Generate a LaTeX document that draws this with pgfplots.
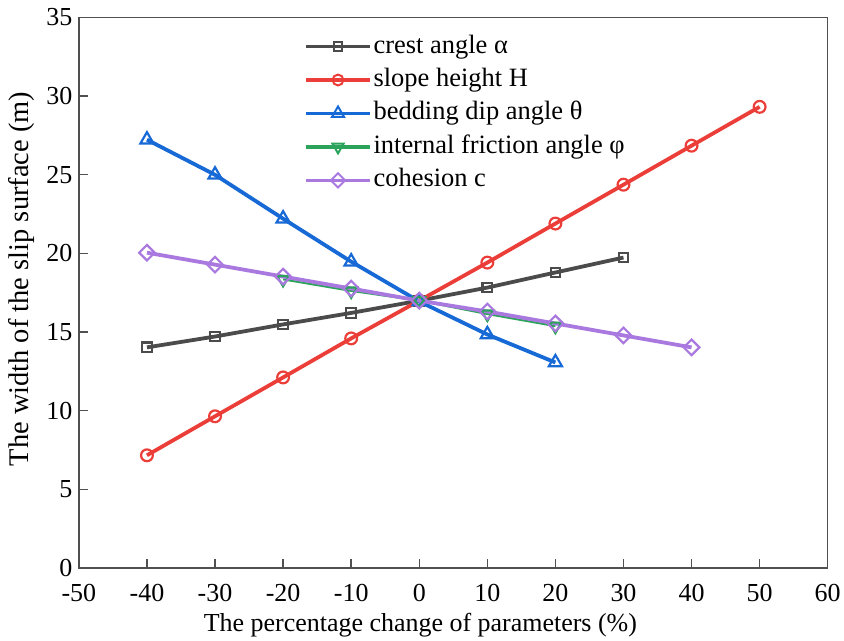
\documentclass[border=0pt]{standalone}
\usepackage{pgfplots}
\pgfplotsset{compat=1.18}
\usepackage{fontspec}
\setmainfont{Liberation Serif}
\definecolor{cblack}{HTML}{4B4B4B}
\definecolor{cred}{HTML}{EC3E38}
\definecolor{cblue}{HTML}{1769D6}
\definecolor{cgreen}{HTML}{2BA35A}
\definecolor{cpurple}{HTML}{A979DF}
\definecolor{caxis}{HTML}{505050}
\begin{document}
\begin{tikzpicture}[x=1bp,y=1bp]
\begin{axis}[
  name=ax,
  scale only axis,
  width=750bp, height=551.5bp,
  xmin=-50, xmax=60, ymin=0, ymax=35,
  xtick={-50,-40,...,60}, ytick={0,5,...,35},
  tick align=inside, tick pos=left,
  major tick length=9bp,
  axis line style={line width=1.5bp, caxis},
  every tick/.style={line width=1.4bp, caxis},
  ticklabel style={font=\fontsize{26bp}{30bp}\selectfont},
  xticklabel style={yshift=-13bp},
  yticklabel style={xshift=-3bp},
  /pgf/number format/assume math mode=true,
  xlabel={The percentage change of parameters (\%)},
  ylabel={The width of the slip surface (m)},
  xlabel style={font=\fontsize{26bp}{30bp}\selectfont, at={(axis description cs:0.456,-0.116)}, anchor=base},
  ylabel style={font=\fontsize{28.5bp}{32bp}\selectfont, at={(axis description cs:-0.0667,0.525)}, anchor=base},
  legend style={at={(axis description cs:0.301,0.972)}, anchor=north west, draw=none, fill=none,
    font=\fontsize{26.5bp}{30bp}\selectfont, row sep=6.5bp, inner sep=0bp,
    nodes={inner xsep=2bp, inner ysep=1bp, text height=19bp, text depth=6bp}},
  legend cell align=left,
  legend image code/.code={\draw[mark repeat=2, mark phase=2, line width=3.2bp, every mark/.append style={scale=0.92, line width=2bp}] plot coordinates {(0bp,0bp) (32bp,0bp) (64bp,0bp)};},
  every axis plot/.append style={line width=3.8bp},
]
\addplot[cblack, mark=square, mark size=4.8bp, mark options={solid, fill=white, line width=2.2bp}] coordinates {(-40,14.03) (-30,14.72) (-20,15.49) (-10,16.22) (0,17.0) (10,17.83) (20,18.79) (30,19.74)};
\addlegendentry{crest angle α}
\addplot[cred, mark=o, mark size=5.9bp, mark options={solid, fill=white, line width=2.2bp}] coordinates {(-40,7.17) (-30,9.65) (-20,12.12) (-10,14.6) (0,17.0) (10,19.42) (20,21.9) (30,24.37) (40,26.85) (50,29.32)};
\addlegendentry{slope height H}
\addplot[cblue, mark=triangle, mark size=7.6bp, mark options={solid, fill=white, line width=2.2bp}] coordinates {(-40,27.23) (-30,25.0) (-20,22.21) (-10,19.48) (0,16.95) (10,14.85) (20,13.07)};
\addlegendentry{bedding dip angle θ}
\addplot[cgreen, line width=2bp, mark=triangle, mark size=7bp, mark options={solid, fill=white, line width=2.2bp, rotate=180}] coordinates {(-20,18.35) (-10,17.62) (0,17.0) (10,16.15) (20,15.38)};
\addlegendentry{internal friction angle φ}
\addplot[cpurple, mark=square, mark size=5.5bp, mark options={solid, fill=white, line width=2.2bp, rotate=45}] coordinates {(-40,20.05) (-30,19.29) (-20,18.53) (-10,17.77) (0,17.0) (10,16.31) (20,15.55) (30,14.79) (40,14.03)};
\addlegendentry{cohesion c}
\end{axis}
\path (ax.south west) ++(-79bp,-72bp);
\path (ax.north east) ++(15bp,17.5bp);
\end{tikzpicture}
\end{document}
